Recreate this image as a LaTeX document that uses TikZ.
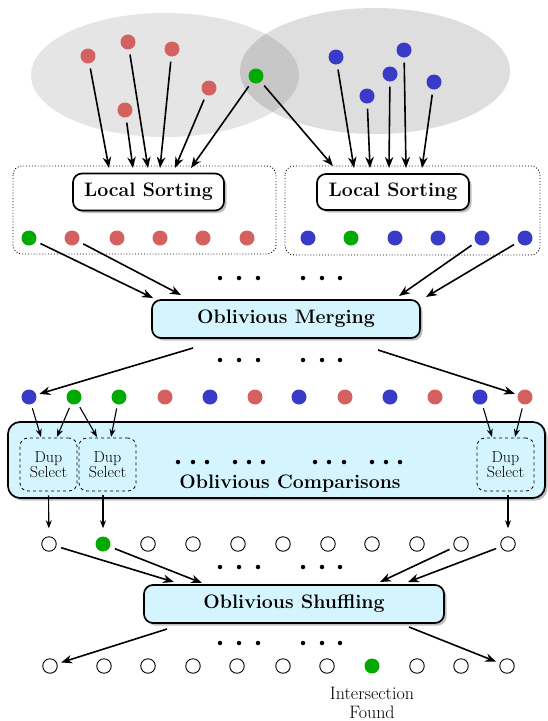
\documentclass[tikz,border=0pt]{standalone}
\usetikzlibrary{arrows.meta,shadows}
\definecolor{myred}{RGB}{213,96,96}
\definecolor{myblue}{RGB}{58,58,200}
\definecolor{mygreen}{RGB}{0,170,0}
\definecolor{mycyan}{RGB}{212,245,253}
\tikzset{
  dotbase/.style={circle, inner sep=0pt, minimum size=15pt},
  dotr/.style={dotbase, fill=myred},
  dotb/.style={dotbase, fill=myblue},
  dotg/.style={dotbase, fill=mygreen},
  doto/.style={dotbase, draw, line width=0.9pt, fill=white, minimum size=14.5pt},
  tdot/.style={circle, fill=black, inner sep=0pt, minimum size=4.5pt},
  arr/.style={-{Stealth[length=11pt,width=8.5pt,inset=3.5pt]}, line width=1.6pt},
  sarr/.style={-{Stealth[length=8pt,width=6pt,inset=2.5pt]}, line width=1.1pt},
  bigfont/.style={font=\fontsize{19.5}{22}\selectfont\bfseries},
  procbox/.style={draw, line width=1.7pt, rounded corners=9pt, inner sep=0pt, bigfont,
    drop shadow={opacity=0.5, shadow xshift=2.5pt, shadow yshift=-2.5pt}},
  dupbox/.style={draw, dashed, line width=0.8pt, rounded corners=8pt, inner sep=0pt,
    minimum width=57pt, minimum height=53pt, align=center,
    font=\fontsize{16}{15}\selectfont},
  grpbox/.style={draw, dotted, line width=0.9pt, rounded corners=9pt}
}
\begin{document}
\begin{tikzpicture}[x=1pt,y=-1pt]
\useasboundingbox (0,0) rectangle (547,721);

% background sets
\fill[black, opacity=0.10] (165,75) ellipse [x radius=134pt, y radius=62pt];
\fill[black, opacity=0.13] (375,71) ellipse [x radius=135pt, y radius=63pt];

% group boxes
\draw[grpbox] (13,166) rectangle (276,254);
\draw[grpbox] (285,166) rectangle (540,255);

% processing boxes
\node[procbox, fill=white, minimum width=151pt, minimum height=37pt] (ls1) at (148.5,192) {Local Sorting};
\node[procbox, fill=white, minimum width=152pt, minimum height=36pt] (ls2) at (393,192) {Local Sorting};
\node[procbox, fill=mycyan, minimum width=268pt, minimum height=38pt] (merge) at (286,319) {Oblivious Merging};
\node[procbox, fill=mycyan, rounded corners=12pt, minimum width=537pt, minimum height=76pt] (comp) at (276.5,460) {};
\node[bigfont, inner sep=0pt] (compt) at (290,484) {Oblivious Comparisons};
\node[procbox, fill=mycyan, minimum width=300pt, minimum height=38pt] (shuf) at (294,604) {Oblivious Shuffling};

\node[dupbox] (dup1) at (48.5,464.5) {Dup\\Select};
\node[dupbox] (dup2) at (107.5,464.5) {Dup\\Select};
\node[dupbox] (dup3) at (505.5,464.5) {Dup\\Select};

% top input dots
\node[dotr] (p1) at (88,56) {};
\node[dotr] (p2) at (128,42) {};
\node[dotr] (p3) at (172,49) {};
\node[dotr] (p4) at (209,88) {};
\node[dotr] (p5) at (125,110) {};
\node[dotg] (pg) at (256,76) {};
\node[dotb] (q1) at (336,57) {};
\node[dotb] (q2) at (367,96) {};
\node[dotb] (q3) at (390,74) {};
\node[dotb] (q4) at (404,50) {};
\node[dotb] (q5) at (434,82) {};

% arrow targets above local sorting
\coordinate (t1) at (109,168);
\coordinate (t2) at (133,168);
\coordinate (t3) at (148,168);
\coordinate (t4) at (160,168);
\coordinate (t5) at (175,168);
\coordinate (t6) at (191,168);
\coordinate (t7) at (333,166);
\coordinate (t8) at (354,168);
\coordinate (t9) at (370,168);
\coordinate (t10) at (389,168);
\coordinate (t11) at (406,168);
\coordinate (t12) at (422,168);

\draw[arr, shorten <=5pt] (p1) -- (t1);
\draw[arr, shorten <=5pt] (p5) -- (t2);
\draw[arr, shorten <=5pt] (p2) -- (t3);
\draw[arr, shorten <=5pt] (p3) -- (t4);
\draw[arr, shorten <=5pt] (p4) -- (t5);
\draw[arr, shorten <=5pt] (pg) -- (t6);
\draw[arr, shorten <=5pt] (pg) -- (t7);
\draw[arr, shorten <=5pt] (q1) -- (t8);
\draw[arr, shorten <=5pt] (q2) -- (t9);
\draw[arr, shorten <=5pt] (q3) -- (t10);
\draw[arr, shorten <=5pt] (q4) -- (t11);
\draw[arr, shorten <=5pt] (q5) -- (t12);

% row 1 (sorted locally)
\foreach \x/\c [count=\i] in {29/g,72/r,117/r,160/r,203/r,247/r,308/b,351/g,395/b,438/b,482/b,525/b}
  \node[dot\c] (a\i) at (\x,238) {};

% ellipsis dots
\foreach \x [count=\i] in {220,239,258,303,322,340} {
  \node[tdot] (u\i) at (\x,278) {};
  \node[tdot] (v\i) at (\x,360) {};
  \node[tdot] (w\i) at (\x,567) {};
  \node[tdot] (z\i) at (\x,643) {};
}
\foreach \x [count=\i] in {178,193,207,235,249,263,315,329,344,372,386,400}
  \node[tdot] (k\i) at (\x,462) {};

% into merging
\coordinate (m1) at (153,298);
\coordinate (m2) at (181,295);
\coordinate (m3) at (399,296);
\coordinate (m4) at (426,297);
\draw[arr, shorten <=5pt] (a1) -- (m1);
\draw[arr, shorten <=5pt] (a2) -- (m2);
\draw[arr, shorten <=5pt] (a11) -- (m3);
\draw[arr, shorten <=5pt] (a12) -- (m4);

% row 2 (merged)
\foreach \x/\c [count=\i] in {29/b,74/g,119/g,165/r,210/b,255/r,299/b,345/r,390/b,435/r,480/b,525/r}
  \node[dot\c] (b\i) at (\x,397) {};

\coordinate (mo1) at (193,348);
\coordinate (mo2) at (378,350);
\draw[arr, shorten >=3pt] (mo1) -- (b1);
\draw[arr, shorten >=3pt] (mo2) -- (b12);

% into dup select
\coordinate (d1) at (41,437);
\coordinate (d2) at (57,437);
\coordinate (d3) at (97,437);
\coordinate (d4) at (111,437);
\coordinate (d5) at (492,437);
\coordinate (d6) at (515,437);
\draw[sarr, shorten <=4pt] (b1) -- (d1);
\draw[sarr, shorten <=4pt] (b2) -- (d2);
\draw[sarr, shorten <=4pt] (b2) -- (d3);
\draw[sarr, shorten <=4pt] (b3) -- (d4);
\draw[sarr, shorten <=4pt] (b11) -- (d5);
\draw[sarr, shorten <=4pt] (b12) -- (d6);

% row 3
\foreach \x/\c [count=\i] in {49/o,103/g,148/o,193/o,238/o,283/o,328/o,372/o,417/o,461/o,508/o}
  \node[dot\c] (c\i) at (\x,544) {};

\draw[sarr, shorten <=4pt, shorten >=8pt] (dup1.south) -- (c1);
\draw[sarr, shorten <=4pt, shorten >=8pt] (dup2.south -| c2) -- (c2);
\draw[sarr, shorten <=4pt, shorten >=8pt] (dup3.south -| c11) -- (c11);

% into shuffling
\coordinate (s1) at (174,582);
\coordinate (s2) at (202,583);
\coordinate (s3) at (380,582);
\coordinate (s4) at (408,582);
\draw[arr, shorten <=5pt] (c1) -- (s1);
\draw[arr, shorten <=5pt] (c2) -- (s2);
\draw[arr, shorten <=5pt] (c10) -- (s3);
\draw[arr, shorten <=5pt] (c11) -- (s4);

% row 4
\foreach \x/\c [count=\i] in {50/o,104/o,148/o,193/o,237/o,283/o,327/o,372/g,417/o,461/o,507/o}
  \node[dot\c] (e\i) at (\x,666) {};

\coordinate (so1) at (167,629);
\coordinate (so2) at (409,627);
\draw[arr, shorten >=4pt] (so1) -- (e1);
\draw[arr, shorten >=4pt] (so2) -- (e11);

\node[align=center, font=\fontsize{18}{19}\selectfont, inner sep=0pt] (found) at (372,703) {Intersection\\Found};
\end{tikzpicture}
\end{document}
